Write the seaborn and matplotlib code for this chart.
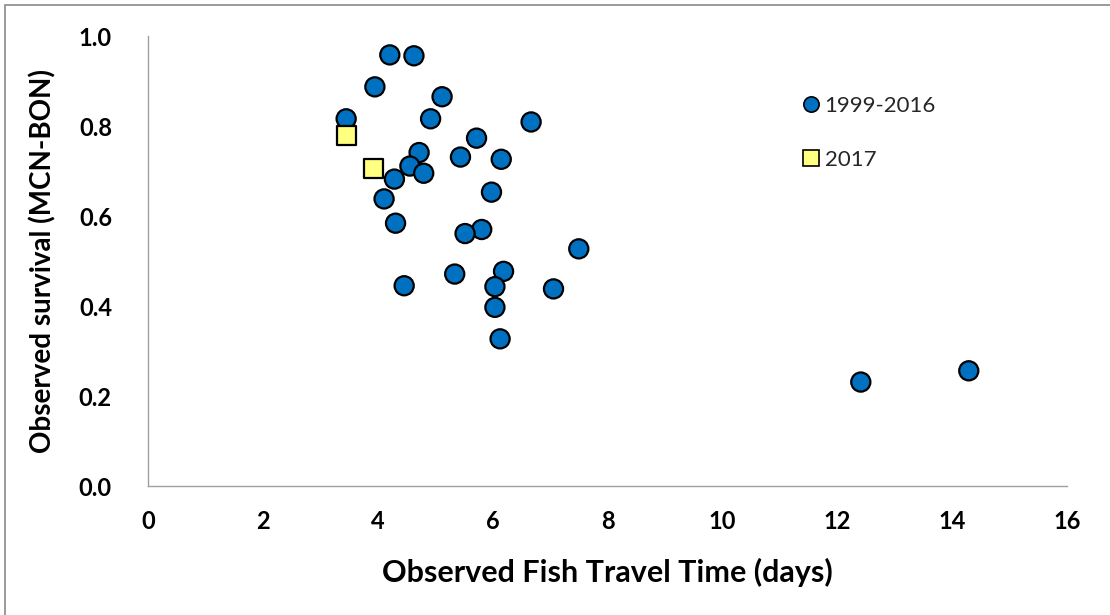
import matplotlib
matplotlib.use("Agg")
import matplotlib.pyplot as plt
from matplotlib.patches import Rectangle
from matplotlib.lines import Line2D
import pandas as pd
import seaborn as sns

# Fish travel time (days) vs observed survival, McNary to Bonneville
travel_hist = [4.21, 4.63, 3.95, 5.12, 3.45, 4.92, 6.67, 5.72, 4.72, 5.44,
               6.15, 4.56, 4.80, 4.29, 5.98, 4.11, 4.31, 5.81, 5.52, 7.50,
               6.19, 5.34, 6.04, 7.06, 4.46, 6.04, 6.13, 12.41, 14.29]
survival_hist = [0.958, 0.956, 0.887, 0.865, 0.816, 0.816, 0.809, 0.773, 0.741, 0.731,
                 0.726, 0.711, 0.695, 0.682, 0.653, 0.638, 0.584, 0.570, 0.561, 0.527,
                 0.477, 0.471, 0.443, 0.438, 0.445, 0.397, 0.327, 0.231, 0.256]
travel_2017 = [3.45, 3.93]
survival_2017 = [0.778, 0.705]

series_labels = ["1999-2016", "2017"]
x_ticks = [0, 2, 4, 6, 8, 10, 12, 14, 16]
y_ticks = [0.0, 0.2, 0.4, 0.6, 0.8, 1.0]

df = pd.DataFrame({
    "travel": travel_hist + travel_2017,
    "survival": survival_hist + survival_2017,
    "period": [series_labels[0]] * len(travel_hist) + [series_labels[1]] * len(travel_2017),
})

sns.set_theme(style="white")
plt.rcParams["font.family"] = ["Lato", "DejaVu Sans"]
plt.rcParams["text.color"] = "black"

fig = plt.figure(figsize=(11.1, 6.15), dpi=100)
ax = fig.add_axes([148 / 1110, 1 - 486 / 615, (1067 - 148) / 1110, (486 - 36) / 615])

sns.scatterplot(
    data=df, x="travel", y="survival", hue="period", style="period",
    palette={series_labels[0]: "#0070C0", series_labels[1]: "#FFFF80"},
    markers={series_labels[0]: "o", series_labels[1]: "s"},
    s=190, edgecolor="black", linewidth=1.6, ax=ax, zorder=3, legend=False,
)

ax.set_xlim(0, 16)
ax.set_ylim(0, 1.0)
ax.set_xticks(x_ticks)
ax.set_xticklabels([str(t) for t in x_ticks])
ax.set_yticks(y_ticks)
ax.set_yticklabels([f"{t:.1f}" for t in y_ticks])

axis_grey = "#a0a0a0"
for side in ("top", "right"):
    ax.spines[side].set_visible(False)
for side in ("left", "bottom"):
    ax.spines[side].set_color(axis_grey)
    ax.spines[side].set_linewidth(1.0)
ax.tick_params(axis="x", direction="out", length=7, width=1.0, color=axis_grey,
               labelsize=17, labelcolor="black", pad=10)
ax.tick_params(axis="y", direction="out", length=9, width=1.0, color=axis_grey,
               labelsize=17, labelcolor="black", pad=17)
for lab in ax.get_xticklabels() + ax.get_yticklabels():
    lab.set_fontweight("bold")

ax.set_xlabel("Observed Fish Travel Time (days)", fontsize=22, fontweight="bold",
              color="black", labelpad=18)
ax.set_ylabel("Observed survival (MCN-BON)", fontsize=20, fontweight="bold",
              color="black", labelpad=16)

# Legend entries placed inside the plotting area
handles = [
    Line2D([], [], marker="o", linestyle="none", markersize=11, markerfacecolor="#0070C0",
           markeredgecolor="black", markeredgewidth=1.2, label=series_labels[0]),
    Line2D([], [], marker="s", linestyle="none", markersize=11, markerfacecolor="#FFFF80",
           markeredgecolor="black", markeredgewidth=1.2, label=series_labels[1]),
]
ax.legend(handles=handles, loc="upper left", bbox_to_anchor=(0.70, 0.886), frameon=False,
          fontsize=16, handletextpad=0.1, labelspacing=1.5, borderaxespad=0,
          handlelength=1.0, labelcolor="#262626")

fig.patches.append(Rectangle((5 / 1110, -0.01), 1.2, 1 - 5 / 615 + 0.01,
                             transform=fig.transFigure, fill=False,
                             edgecolor="#898989", linewidth=1.2))

fig.savefig("out.png", dpi=100)
